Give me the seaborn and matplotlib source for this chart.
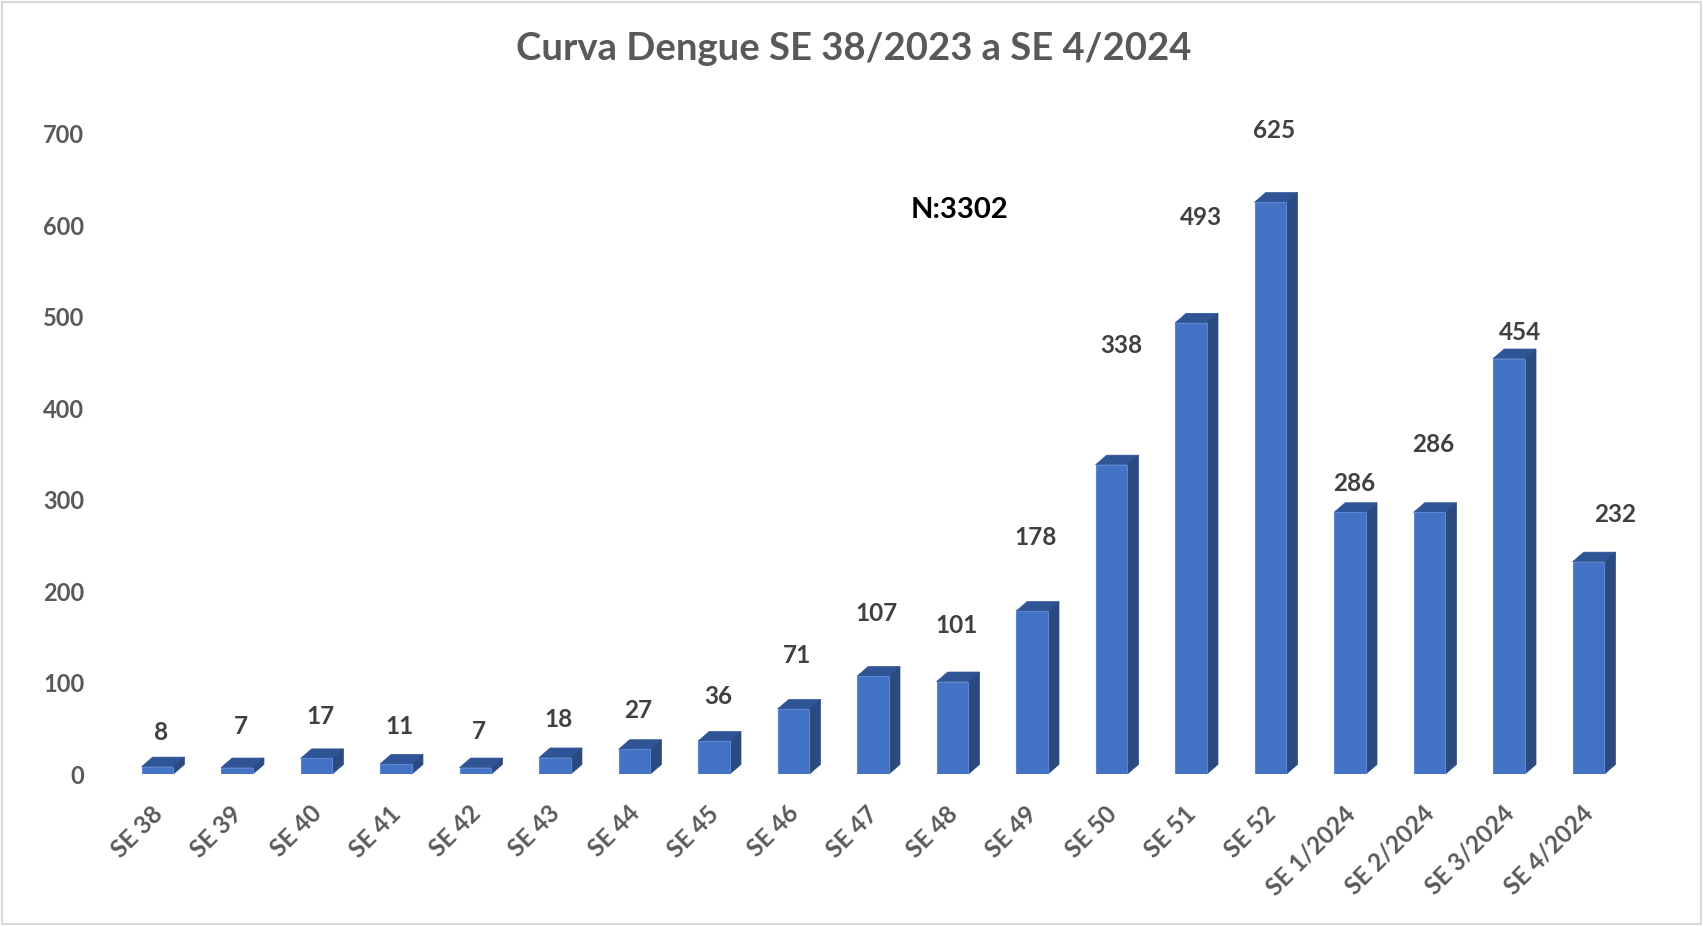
import numpy as np
import pandas as pd
import matplotlib
matplotlib.use('Agg')
import matplotlib.pyplot as plt
from matplotlib.patches import Polygon, Rectangle
from matplotlib.transforms import ScaledTranslation
import seaborn as sns

# data
weeks = ['SE 38', 'SE 39', 'SE 40', 'SE 41', 'SE 42', 'SE 43', 'SE 44', 'SE 45',
         'SE 46', 'SE 47', 'SE 48', 'SE 49', 'SE 50', 'SE 51', 'SE 52',
         'SE 1/2024', 'SE 2/2024', 'SE 3/2024', 'SE 4/2024']
cases = [8, 7, 17, 11, 7, 18, 27, 36, 71, 107, 101, 178, 338, 493, 625,
         286, 286, 454, 232]
total_label = 'N:3302'
title = 'Curva Dengue SE 38/2023 a SE 4/2024'

# label placement (the labels were moved by hand in the original)
label_dy = [37, 45, 46, 41, 40, 42, 42, 49, 59, 68, 61, 81, 130, 115, 78, 32, 74, 29, 52]
label_dx = [0.05] * 12 + [0.12, 0.12, 0.05, 0.05, 0.05, 0.14, 0.33]

FRONT = '#4472C4'
TOP = '#2F5597'
SIDE = '#2B4A80'
TEXT = '#595959'
LABEL = '#404040'

sns.set_style('white')
plt.rcParams['font.family'] = ['Lato', 'DejaVu Sans']

df = pd.DataFrame({'week': weeks, 'cases': cases})

fig = plt.figure(figsize=(17.03, 9.26), dpi=100)
ax = fig.add_axes([0.0691, 0.1641, 0.8870, 0.6917])

sns.barplot(data=df, x='week', y='cases', color=FRONT, width=0.4,
            saturation=1, edgecolor='#5B86D4', linewidth=0.8, ax=ax, zorder=3)

# fake 3D: top and side faces offset up-right of each front face
dx = 0.14    # depth in category units (~11 px)
dy = 10.5    # depth in data units (~9-10 px)
for p in ax.patches:
    x0 = p.get_x()
    w = p.get_width()
    h = p.get_height()
    x1 = x0 + w
    top = Polygon([(x0, h), (x0 + dx, h + dy), (x1 + dx, h + dy), (x1, h)],
                  closed=True, facecolor=TOP, edgecolor=TOP, lw=0.5,
                  zorder=2.9, clip_on=False)
    side = Polygon([(x1, 0), (x1 + dx, dy), (x1 + dx, h + dy), (x1, h)],
                   closed=True, facecolor=SIDE, edgecolor=SIDE, lw=0.5,
                   zorder=2.9, clip_on=False)
    ax.add_patch(top)
    ax.add_patch(side)

for i, v in enumerate(cases):
    ax.text(i + label_dx[i], v + label_dy[i], str(v), ha='center', va='center',
            fontsize=17.5, fontweight='bold', color=LABEL)

ax.set_xlim(-0.5, len(weeks) - 0.5)
ax.set_ylim(0, 700)
ax.set_yticks(range(0, 701, 100))
ax.set_xlabel('')
ax.set_ylabel('')
sns.despine(ax=ax, left=True, bottom=True)
ax.tick_params(axis='y', length=0, pad=24, labelsize=17, labelcolor=TEXT)
ax.tick_params(axis='x', length=0, pad=20, labelsize=17.5, labelcolor=TEXT)
for lbl in ax.get_yticklabels():
    lbl.set_fontweight('bold')
shift = ScaledTranslation(-0.07, 0, fig.dpi_scale_trans)
for tick in ax.xaxis.get_major_ticks():
    lbl = tick.label1
    lbl.set_fontweight('bold')
    lbl.set_rotation(45)
    lbl.set_ha('right')
    lbl.set_rotation_mode('anchor')
    lbl.set_transform(lbl.get_transform() + shift)

fig.text(0.501, 0.947, title, ha='center', va='center', fontsize=27.5,
         fontweight='bold', color=TEXT)
fig.text(0.5637, 0.773, total_label, ha='center', va='center', fontsize=21,
         fontweight='bold', color='black')

fig.patches.append(Rectangle((0.001, 0.002), 0.998, 0.996, transform=fig.transFigure,
                             fill=False, edgecolor='#D9D9D9', lw=1.5))

fig.savefig('out.png', dpi=100)
